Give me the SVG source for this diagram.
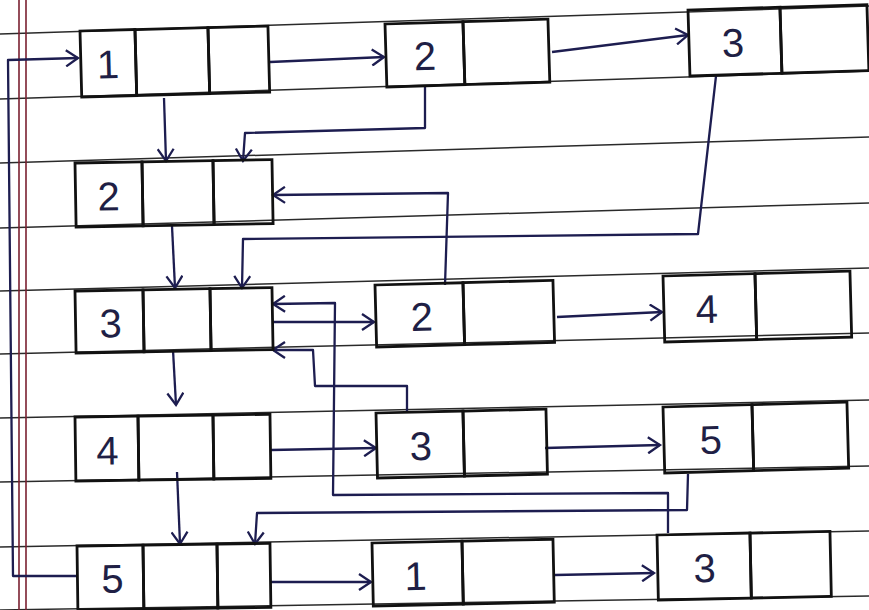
<svg xmlns="http://www.w3.org/2000/svg" width="869" height="610" viewBox="0 0 869 610">
<defs>
<style>
.rule{stroke:#2a2a2a;stroke-width:1.5;fill:none}
.margin{stroke:#7a2030;stroke-width:1.6;fill:none}
.cell{fill:none;stroke:#111;stroke-width:2.8}
.lbl{font-family:"Liberation Sans",Arial,sans-serif;font-size:40px;fill:#1f1f45;text-anchor:middle}
.con{fill:none;stroke:#1d1d50;stroke-width:2.3;stroke-linejoin:round}
</style>
<marker id="ah" markerWidth="18" markerHeight="18" refX="15" refY="9" orient="auto" markerUnits="userSpaceOnUse">
<path d="M3,1 L15,9 L3,17" fill="none" stroke="#1d1d50" stroke-width="2.3"/>
</marker>
</defs>
<rect width="869" height="610" fill="#ffffff"/>
<g id="paper">
<line class="rule" x1="0" y1="34" x2="869" y2="6"/>
<line class="rule" x1="0" y1="99" x2="869" y2="71"/>
<line class="rule" x1="0" y1="163" x2="869" y2="137"/>
<line class="rule" x1="0" y1="228" x2="869" y2="203"/>
<line class="rule" x1="0" y1="291" x2="869" y2="268"/>
<line class="rule" x1="0" y1="354" x2="869" y2="333"/>
<line class="rule" x1="0" y1="418" x2="869" y2="400"/>
<line class="rule" x1="0" y1="482" x2="869" y2="466"/>
<line class="rule" x1="0" y1="547" x2="869" y2="531"/>
<line class="rule" x1="0" y1="610" x2="869" y2="596"/>
<line class="margin" x1="19" y1="0" x2="19" y2="610"/>
<line class="margin" x1="26" y1="0" x2="26" y2="610"/>
</g>
<g id="connectors">
<path class="con" d="M78,576 L13,576 L8,60 L78,58" marker-end="url(#ah)"/>
<path class="con" d="M270,62 L384,57" marker-end="url(#ah)"/>
<path class="con" d="M552,52 L688,35" marker-end="url(#ah)"/>
<path class="con" d="M164,98 L166,161" marker-end="url(#ah)"/>
<path class="con" d="M425,86 L425,128 L245,133 L243,161" marker-end="url(#ah)"/>
<path class="con" d="M445,285 L448,193 L273,195" marker-end="url(#ah)"/>
<path class="con" d="M172,226 L175,288" marker-end="url(#ah)"/>
<path class="con" d="M716,76 L698,234 L243,239 L242,288" marker-end="url(#ah)"/>
<path class="con" d="M272,322 L374,322" marker-end="url(#ah)"/>
<path class="con" d="M668,533 L668,493 L333,495 L335,303 L273,304" marker-end="url(#ah)"/>
<path class="con" d="M407,412 L407,386 L315,386 L313,350 L273,350" marker-end="url(#ah)"/>
<path class="con" d="M557,317 L662,312" marker-end="url(#ah)"/>
<path class="con" d="M173,350 L176,405" marker-end="url(#ah)"/>
<path class="con" d="M271,450 L376,448" marker-end="url(#ah)"/>
<path class="con" d="M545,448 L660,445" marker-end="url(#ah)"/>
<path class="con" d="M177,472 L180,544" marker-end="url(#ah)"/>
<path class="con" d="M688,474 L687,510 L257,513 L255,544" marker-end="url(#ah)"/>
<path class="con" d="M271,582 L371,582" marker-end="url(#ah)"/>
<path class="con" d="M555,575 L654,573" marker-end="url(#ah)"/>
</g>
<g id="h1" transform="rotate(-1.5 80 31)">
<rect class="cell" x="80" y="31" width="55" height="66"/><rect class="cell" x="135" y="31" width="73" height="66"/><rect class="cell" x="208" y="31" width="60" height="66"/>
<text class="lbl" x="107" y="79">1</text></g>
<g id="r1n2" transform="rotate(-1.7 385 24)">
<rect class="cell" x="385" y="24" width="78" height="63"/><rect class="cell" x="463" y="24" width="85" height="63"/>
<text class="lbl" x="424" y="71">2</text></g>
<g id="r1n3" transform="rotate(-1.7 688 10)">
<rect class="cell" x="688" y="10" width="92" height="66"/><rect class="cell" x="780" y="10" width="87" height="66"/>
<text class="lbl" x="732" y="58">3</text></g>
<g id="h2" transform="rotate(-1 75 163)">
<rect class="cell" x="75" y="163" width="67" height="64"/><rect class="cell" x="142" y="163" width="71" height="64"/><rect class="cell" x="213" y="163" width="59" height="64"/>
<text class="lbl" x="108" y="211">2</text></g>
<g id="h3" transform="rotate(-1 75 291)">
<rect class="cell" x="75" y="291" width="68" height="62"/><rect class="cell" x="143" y="291" width="67" height="62"/><rect class="cell" x="210" y="291" width="62" height="62"/>
<text class="lbl" x="110" y="338">3</text></g>
<g id="r3n2" transform="rotate(-1.5 375 285)">
<rect class="cell" x="375" y="285" width="88" height="62"/><rect class="cell" x="463" y="285" width="90" height="62"/>
<text class="lbl" x="421" y="332">2</text></g>
<g id="r3n4" transform="rotate(-1.5 663 276)">
<rect class="cell" x="663" y="276" width="92" height="66"/><rect class="cell" x="755" y="276" width="95" height="66"/>
<text class="lbl" x="706" y="324">4</text></g>
<g id="h4" transform="rotate(-0.8 75 417)">
<rect class="cell" x="75" y="417" width="63" height="64"/><rect class="cell" x="138" y="417" width="75" height="64"/><rect class="cell" x="213" y="417" width="57" height="64"/>
<text class="lbl" x="107" y="465">4</text></g>
<g id="r4n3" transform="rotate(-1.3 376 413)">
<rect class="cell" x="376" y="413" width="87" height="65"/><rect class="cell" x="463" y="413" width="83" height="65"/>
<text class="lbl" x="420" y="461">3</text></g>
<g id="r4n5" transform="rotate(-1.5 663 407)">
<rect class="cell" x="663" y="407" width="89" height="66"/><rect class="cell" x="752" y="407" width="95" height="66"/>
<text class="lbl" x="710" y="455">5</text></g>
<g id="h5" transform="rotate(-0.8 77 546)">
<rect class="cell" x="77" y="546" width="66" height="64"/><rect class="cell" x="143" y="546" width="74" height="64"/><rect class="cell" x="217" y="546" width="53" height="64"/>
<text class="lbl" x="112" y="593">5</text></g>
<g id="r5n1" transform="rotate(-1.2 372 543)">
<rect class="cell" x="372" y="543" width="90" height="63"/><rect class="cell" x="462" y="543" width="91" height="63"/>
<text class="lbl" x="415" y="591">1</text></g>
<g id="r5n3" transform="rotate(-1.2 657 535)">
<rect class="cell" x="657" y="535" width="93" height="65"/><rect class="cell" x="750" y="535" width="80" height="65"/>
<text class="lbl" x="704" y="583">3</text></g>
</svg>
